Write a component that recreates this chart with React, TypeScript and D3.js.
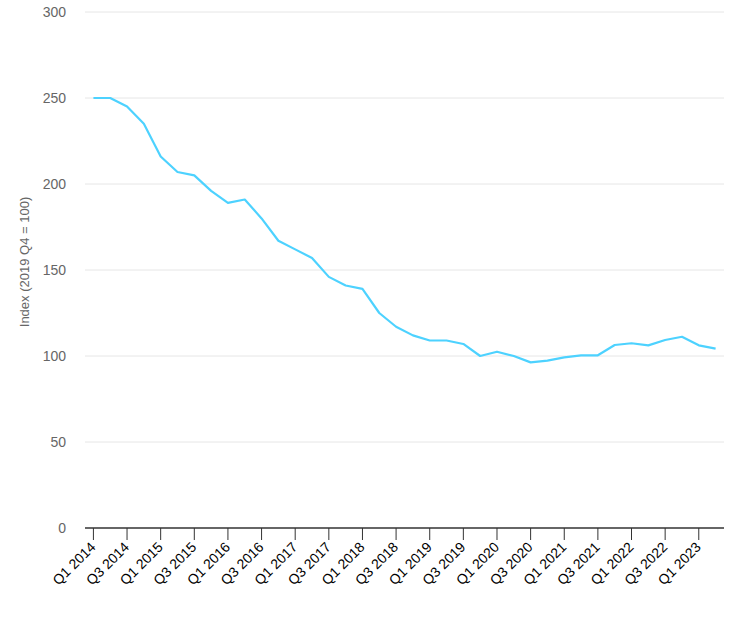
import React from "react";
import * as d3 from "d3";

const quarters: string[] = [
  "Q1 2014","Q2 2014","Q3 2014","Q4 2014",
  "Q1 2015","Q2 2015","Q3 2015","Q4 2015",
  "Q1 2016","Q2 2016","Q3 2016","Q4 2016",
  "Q1 2017","Q2 2017","Q3 2017","Q4 2017",
  "Q1 2018","Q2 2018","Q3 2018","Q4 2018",
  "Q1 2019","Q2 2019","Q3 2019","Q4 2019",
  "Q1 2020","Q2 2020","Q3 2020","Q4 2020",
  "Q1 2021","Q2 2021","Q3 2021","Q4 2021",
  "Q1 2022","Q2 2022","Q3 2022","Q4 2022",
  "Q1 2023","Q2 2023",
];

const indexValues: number[] = [
  250, 250, 245, 235,
  216, 207, 205, 196,
  189, 191, 180, 167,
  162, 157, 146, 141,
  139, 125, 117, 112,
  109, 109, 107, 100,
  102.5, 100, 96.3, 97.3,
  99.2, 100.4, 100.4, 106.4,
  107.4, 106.2, 109.3, 111.2,
  106.2, 104.3,
];

const yTicks: number[] = [0, 50, 100, 150, 200, 250, 300];
const yTitle = "Index (2019 Q4 = 100)";

const W = 750;
const H = 625;
const margin = { left: 85, right: 26, top: 12, bottom: 97 };

export default function App() {
  const x = d3
    .scaleBand<string>()
    .domain(quarters)
    .range([margin.left, W - margin.right])
    .padding(0);
  const cx = (q: string) => (x(q) as number) + x.bandwidth() / 2;
  const y = d3.scaleLinear().domain([0, 300]).range([H - margin.bottom, margin.top]);

  const line = d3
    .line<number>()
    .x((_, i) => cx(quarters[i]))
    .y((d) => y(d));

  const tickQuarters = quarters.filter((_, i) => i % 2 === 0);
  const font = "Arial, 'Liberation Sans', sans-serif";

  return (
    <svg
      width={W}
      height={H}
      style={{ position: "absolute", left: 0, top: 0, background: "#fff" }}
      fontFamily={font}
    >
      {yTicks.map((t) => (
        <g key={t}>
          {t > 0 && (
            <line
              x1={margin.left}
              x2={W - margin.right}
              y1={y(t)}
              y2={y(t)}
              stroke="#e6e6e6"
              strokeWidth={1}
            />
          )}
          <text
            x={66}
            y={y(t)}
            dy="0.35em"
            textAnchor="end"
            fontSize={14}
            fill="#666"
          >
            {t}
          </text>
        </g>
      ))}
      <text
        transform={`translate(29,262) rotate(-90)`}
        textAnchor="middle"
        fontSize={13}
        fill="#666"
      >
        {yTitle}
      </text>
      <path
        d={line(indexValues) || ""}
        fill="none"
        stroke="#4dd2ff"
        strokeWidth={2.2}
        strokeLinejoin="round"
      />
      <line
        x1={margin.left}
        x2={W - margin.right}
        y1={y(0)}
        y2={y(0)}
        stroke="#333"
        strokeWidth={1.5}
      />
      {tickQuarters.map((q) => (
        <g key={q} transform={`translate(${cx(q)},${y(0)})`}>
          <line y1={0} y2={12} stroke="#333" strokeWidth={1} />
          <text
            transform="translate(3,20) rotate(-45)"
            textAnchor="end"
            fontSize={14}
            fill="#000"
          >
            {q}
          </text>
        </g>
      ))}
    </svg>
  );
}
